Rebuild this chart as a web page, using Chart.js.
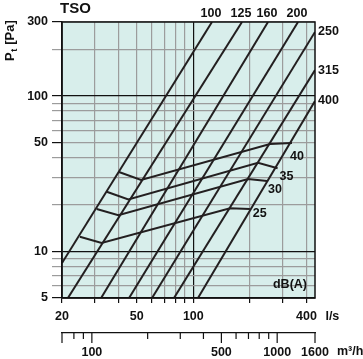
<!DOCTYPE html>
<html>
<head>
<meta charset="utf-8">
<script src="https://cdn.jsdelivr.net/npm/chart.js@4.4.1/dist/chart.umd.min.js"></script>
<style>
  html, body { margin: 0; padding: 0; background: #fff; }
  #wrap { width: 363px; height: 359px; }
</style>
</head>
<body>
<div id="wrap"><canvas id="chart"></canvas></div>
<script>
// duct sizes and the two ends of each pressure line (flow l/s, pressure Pa)
const ductSizes = ['100', '125', '160', '200', '250', '315', '400'];
const ductFlowStart = [20, 21.5, 32.3, 45.5, 60.3, 78.9, 105.9];
const ductPressStart = [8.4, 5, 5, 5, 5, 5, 5];
const ductFlowEnd = [125.7, 181.6, 249.8, 360.9, 444.4, 444.4, 444.4];
const ductPressEnd = [300, 300, 300, 300, 259, 147, 93];

// sound level curves dB(A)
const dbLevels = ['25', '30', '35', '40'];
const dbFlows = [
    [24.9, 32.5, 156.8, 200],
    [30.6, 39.9, 195.5, 247],
    [34.6, 45.1, 221, 281],
    [40.2, 52.7, 256, 335]
];
const dbPress = [
    [12.4, 11.3, 18.9, 18.7],
    [18.7, 17.1, 29.2, 28.4],
    [24.2, 21.6, 37.1, 34.3],
    [32.4, 28.8, 49.1, 49.9]
];

// ticks
const flowGrid = [20, 30, 40, 50, 60, 70, 80, 90, 100, 200, 300, 400];
const flowLabels = [20, 50, 100, 400];
const pressGrid = [5, 6, 7, 8, 9, 10, 20, 30, 40, 50, 60, 70, 80, 90, 100, 200, 300];
const pressLabels = [5, 10, 50, 100, 300];
const m3hTicks = [80, 90, 100, 200, 300, 400, 500, 600, 700, 800, 900, 1000, 1600];
const m3hLabels = [100, 500, 1000, 1600];

const ink = '#231f20';
const gridGray = '#9c9c9c';
const FONT = "'Liberation Sans', Arial, sans-serif";

Chart.defaults.font.family = FONT;
Chart.defaults.font.size = 12.5;
Chart.defaults.font.weight = 'bold';
Chart.defaults.color = '#111';

const datasets = [];
ductSizes.forEach(function (d, i) {
    datasets.push({
        label: d,
        data: [{x: ductFlowStart[i], y: ductPressStart[i]}, {x: ductFlowEnd[i], y: ductPressEnd[i]}],
        showLine: true,
        borderColor: ink,
        borderWidth: 2,
        pointRadius: 0,
        xAxisID: 'x',
        yAxisID: 'y'
    });
});
dbLevels.forEach(function (lv, i) {
    datasets.push({
        label: lv + ' dB',
        data: dbFlows[i].map(function (q, k) { return {x: q, y: dbPress[i][k]}; }),
        showLine: true,
        borderColor: ink,
        borderWidth: 2,
        pointRadius: 0,
        xAxisID: 'x',
        yAxisID: 'y'
    });
});

// offsets of the dB labels from the last vertex of each curve
const dbLabelOffset = [[3, 4], [1, 9], [2, 8], [-2, 14]];

const decor = {
    id: 'decor',
    beforeDraw(chart) {
        const {ctx, chartArea: a} = chart;
        ctx.save();
        ctx.fillStyle = '#d8eeeb';
        ctx.fillRect(a.left, a.top, a.right - a.left, a.bottom - a.top);
        ctx.restore();
    },
    afterDraw(chart) {
        const {ctx, chartArea: a} = chart;
        const sx = chart.scales.x, sy = chart.scales.y, s2 = chart.scales.x2;
        ctx.save();
        // frame
        ctx.strokeStyle = '#111';
        ctx.lineWidth = 1.5;
        ctx.strokeRect(a.left, a.top, a.right - a.left, a.bottom - a.top);

        // m3/h ticks
        ctx.lineWidth = 1.2;
        [s2.min].concat(m3hTicks).forEach(function (v) {
            const px = s2.getPixelForValue(v);
            const len = (v === s2.min || m3hLabels.includes(v)) ? 10 : 6;
            ctx.beginPath();
            ctx.moveTo(px, s2.top);
            ctx.lineTo(px, s2.top + len);
            ctx.stroke();
        });

        ctx.fillStyle = '#111';
        ctx.font = 'bold 12.5px ' + FONT;
        ctx.textBaseline = 'middle';

        // duct size labels
        ductSizes.forEach(function (d, i) {
            const pt = chart.getDatasetMeta(i).data[1];
            if (ductPressEnd[i] >= sy.max) {
                ctx.textAlign = 'center';
                ctx.fillText(d, pt.x - 1, a.top - 8);
            } else {
                ctx.textAlign = 'left';
                ctx.fillText(d, a.right + 3, pt.y);
            }
        });

        // dB labels
        ctx.textAlign = 'left';
        dbLevels.forEach(function (lv, i) {
            const pts = chart.getDatasetMeta(ductSizes.length + i).data;
            const last = pts[pts.length - 1];
            ctx.fillText(lv, last.x + dbLabelOffset[i][0], last.y + dbLabelOffset[i][1]);
        });
        ctx.textAlign = 'right';
        ctx.fillText('dB(A)', a.right - 8, a.bottom - 13);

        // units
        ctx.textAlign = 'left';
        ctx.fillText('l/s', sx.getPixelForValue(400) + 19, a.bottom + 19);
        ctx.fillText('m\u00b3/h', s2.getPixelForValue(1600) + 22, s2.top + 19);

        // title
        ctx.textBaseline = 'alphabetic';
        ctx.font = 'bold 15px ' + FONT;
        ctx.fillText('TSO', 60, 13);

        // y axis title P_t [Pa]
        ctx.translate(14, 61);
        ctx.rotate(-Math.PI / 2);
        ctx.font = 'bold 13px ' + FONT;
        ctx.fillText('P', 0, 0);
        let w = ctx.measureText('P').width;
        ctx.font = 'bold 9px ' + FONT;
        ctx.fillText('t', w + 0.5, 3);
        w += ctx.measureText('t').width + 1;
        ctx.font = 'bold 13px ' + FONT;
        ctx.fillText(' [Pa]', w, 0);
        ctx.restore();
    }
};

new Chart(document.getElementById('chart'), {
    type: 'scatter',
    data: {datasets: datasets},
    options: {
        responsive: true,
        maintainAspectRatio: false,
        devicePixelRatio: 1,
        animation: false,
        events: [],
        layout: {padding: {top: 22, right: 48, bottom: 0, left: 0}},
        plugins: {legend: {display: false}, tooltip: {enabled: false}},
        scales: {
            x: {
                type: 'logarithmic',
                position: 'bottom',
                weight: 0,
                min: 20,
                max: 444.4,
                afterBuildTicks: function (s) { s.ticks = flowGrid.map(function (v) { return {value: v}; }); },
                afterFit: function (s) { s.height = 35; s.paddingLeft = 0; s.paddingRight = 0; },
                ticks: {
                    autoSkip: false,
                    maxRotation: 0,
                    padding: 6,
                    callback: function (v) { return flowLabels.includes(v) ? String(v) : ''; }
                },
                grid: {
                    color: function (c) { return c.tick && c.tick.value === 100 ? '#111' : gridGray; },
                    lineWidth: 1.2,
                    tickLength: 5,
                    tickColor: '#111'
                },
                border: {display: true, color: '#111', width: 1.5}
            },
            x2: {
                type: 'logarithmic',
                position: 'bottom',
                weight: 1,
                min: 69,
                max: 1600,
                afterBuildTicks: function (s) { s.ticks = m3hTicks.map(function (v) { return {value: v}; }); },
                afterFit: function (s) { s.height = 26; s.paddingLeft = 0; s.paddingRight = 0; },
                ticks: {
                    autoSkip: false,
                    maxRotation: 0,
                    padding: 2,
                    callback: function (v) { return m3hLabels.includes(v) ? String(v) : ''; }
                },
                grid: {display: false, drawTicks: true, tickLength: 10},
                border: {display: true, color: '#111', width: 1.2}
            },
            y: {
                type: 'logarithmic',
                position: 'left',
                min: 5,
                max: 300,
                afterBuildTicks: function (s) { s.ticks = pressGrid.map(function (v) { return {value: v}; }); },
                afterFit: function (s) { s.width = 62; s.paddingTop = 0; s.paddingBottom = 0; },
                ticks: {
                    autoSkip: false,
                    padding: 4,
                    callback: function (v) { return pressLabels.includes(v) ? String(v) : ''; }
                },
                grid: {
                    color: function (c) { return c.tick && (c.tick.value === 100 || c.tick.value === 10) ? '#111' : gridGray; },
                    lineWidth: 1.2,
                    tickLength: 10,
                    tickColor: function (c) { return c.tick && pressLabels.includes(c.tick.value) ? '#111' : gridGray; }
                },
                border: {display: true, color: '#111', width: 1.5}
            }
        }
    },
    plugins: [decor]
});
</script>
</body>
</html>
